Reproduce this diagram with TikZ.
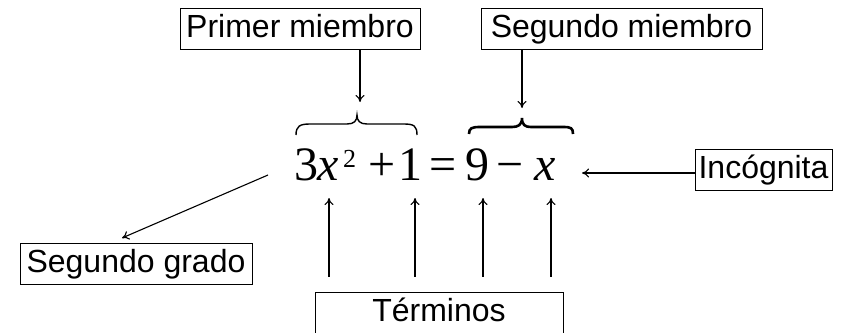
\documentclass[tikz,border=0pt]{standalone}
\usepackage{fontspec}
\setmainfont{Liberation Sans}
\newfontfamily\eqf{Liberation Serif}
\usetikzlibrary{arrows.meta}
\begin{document}
\begin{tikzpicture}[x=1pt,y=-1pt,
  lbl/.style={draw,line width=0.8pt,inner sep=0pt,minimum height=41pt,
    text height=25pt,text depth=7pt,font=\fontsize{32}{38}\selectfont},
  arr/.style={-{To[length=7pt,width=9pt]},line width=1.1pt},
  eq/.style={anchor=base,inner sep=0pt,font=\eqf\fontsize{48}{52}\selectfont},
  sup/.style={anchor=base,inner sep=0pt,font=\eqf\fontsize{26}{28}\selectfont},
  bracepath/.style={line width=#1}]
\useasboundingbox (0,0) rectangle (851,332);
% boxes
\node[lbl,minimum width=240pt] (pm) at (300,28.5) {Primer miembro};
\node[lbl,minimum width=281pt] (sm) at (621.5,28.5) {Segundo miembro};
\node[lbl,minimum width=232pt] (sg) at (136,263.5) {Segundo grado};
\node[lbl,minimum width=248pt] (te) at (439,312.5) {Términos};
\node[lbl,minimum width=137pt] (inc) at (763.5,169.5) {Incógnita};
% equation glyphs
\node[eq] (e3) at (306,180) {3};
\node[eq] (ex) at (328.5,180) {\itshape x};
\node[sup] (e2) at (349.5,167) {2};
\node[eq] (ep) at (382.5,180) {+};
\node[eq] (e1) at (410,180) {1};
\node[eq] (eeq) at (443.5,180) {=};
\node[eq] (e9) at (477.5,180) {9};
\node[eq] (em) at (510.5,180) {−};
\node[eq] (ex2) at (545,180) {\itshape x};
% braces
\draw[bracepath=1.4pt] (296,135) .. controls (296,126) and (300,124) .. (310,124)
  -- (347,124) .. controls (354,124) and (357,121) .. (357,115)
  .. controls (357,121) and (360,124) .. (367,124)
  -- (404,124) .. controls (414,124) and (417,126) .. (417,135);
\draw[bracepath=2.6pt] (469,134) .. controls (469,128) and (472,127) .. (480,127)
  -- (512,127) .. controls (518,127) and (522,125) .. (522,118)
  .. controls (522,125) and (525,127) .. (531,127)
  -- (563,127) .. controls (571,127) and (573,128) .. (573,134);
% arrow targets
\coordinate (pmt) at (360,102);
\coordinate (smt) at (522,108);
\coordinate (inct) at (582,173);
\coordinate (sgs) at (268,175);
\coordinate (sgt) at (122,238);
\coordinate (t1) at (329,198);
\coordinate (t2) at (415,198);
\coordinate (t3) at (483,198);
\coordinate (t4) at (551,198);
% arrows
\draw[arr] (pm.south -| pmt) -- (pmt);
\draw[arr] (sm.south -| smt) -- (smt);
\draw[arr] ([yshift=-3.5pt]inc.west) -- (inct);
\draw[arr] (sgs) -- (sgt);
\foreach \t in {t1,t2,t3,t4}
  \draw[arr] ([yshift=15pt]te.north -| \t) -- (\t);
\end{tikzpicture}
\end{document}
